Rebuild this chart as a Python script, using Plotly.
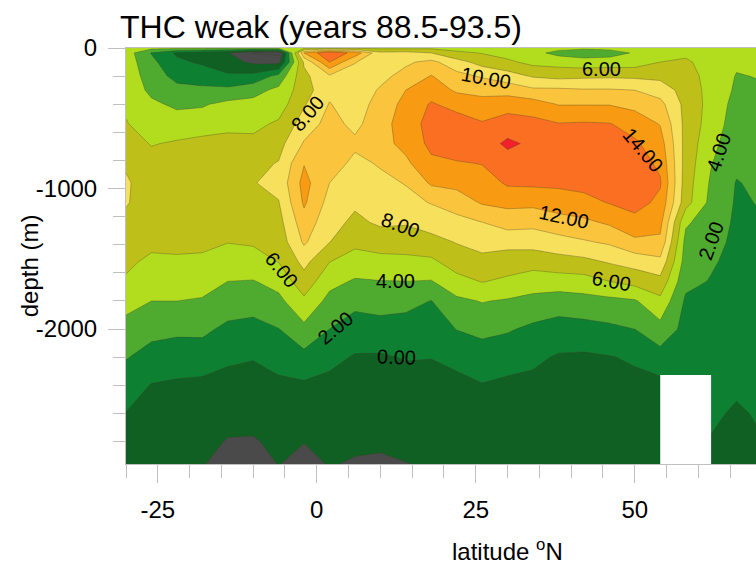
import plotly.graph_objects as go

title_text = "THC weak (years 88.5-93.5)"
lats = [-30, -26, -22, -18, -14, -10, -6, -2, 2, 6, 10, 14, 18, 22, 26, 30, 34, 38, 42, 46, 50, 54, 58, 62, 66, 70]
depths = [0, -35, -100, -200, -300, -400, -540, -680, -820, -960, -1100, -1240, -1380, -1520, -1660, -1800, -2000, -2200, -2400, -2600, -2800, -2960]

d0000 = [5, 4.6, 4.6, 4.5, 4.4, 4.3, 4.3, 5.5, 5.7, 5.6, 5.5, 5.4, 5.6, 5.3, 5, 5, 5, 4.6, 4.3, 4.5, 4.6, 4.8, 4.9, 4.9, 4.7, 4.8]
d0035 = [5, 1.9, -0.3, -1.0, -1.9, -4.1, -4.6, 12, 15.8, 13.2, 8.5, 8.8, 8.0, 6.4, 5.9, 5.2, 4.6, 3.4, 3.0, 3.2, 4.2, 5.2, 5.6, 5.1, 4.6, 4.7]
d0100 = [5.1, 2.5, 0.4, -0.3, -1.2, -2.4, -2.6, 8.3, 14.0, 10.1, 8.8, 9.7, 10.5, 8.8, 7.2, 6.4, 5.4, 5.2, 4.8, 4.9, 5.0, 6.0, 6.3, 5.2, 4.3, 4.5]
d0200 = [5.3, 3.0, 1.4, 1.1, 0.3, 0.6, 2.6, 7.5, 9.7, 9.2, 9.5, 10.6, 12.1, 10.6, 9.8, 8.9, 7.8, 7.4, 7.6, 7.7, 7.6, 7.5, 6.8, 5.3, 3.9, 4.1]
d0300 = [5.5, 3.5, 2.6, 2.4, 2.5, 3.3, 4.5, 7.1, 9.5, 8.9, 10.2, 12.0, 13.1, 11.7, 11.5, 11.2, 10.4, 10.4, 10.2, 10.2, 10.0, 9.1, 7.2, 5.3, 3.7, 3.8]
d0400 = [5.7, 4.4, 3.6, 3.8, 4.5, 4.6, 5.0, 7.8, 10.1, 9.0, 10.8, 12.6, 14.2, 13.3, 12.6, 13.2, 12.9, 11.9, 11.9, 11.9, 11.4, 10.6, 7.4, 5.3, 3.3, 3.4]
d0540 = [6.1, 5.2, 5.0, 5.0, 5.5, 5.5, 6.3, 8.9, 10.7, 9.5, 11.2, 13.0, 14.7, 15.0, 14.2, 14.9, 14.6, 14.1, 14.2, 14.1, 13.2, 11.9, 7.4, 5.1, 3.0, 3.2]
d0680 = [6.8, 5.9, 6.2, 6.6, 6.6, 6.5, 7.3, 10.2, 11.2, 10.4, 11.3, 12.6, 14.5, 15.4, 15.0, 16.4, 15.6, 15.2, 15.2, 15.0, 14.3, 12.9, 7.3, 4.6, 2.7, 2.9]
d0820 = [7.8, 6.6, 7.0, 7.1, 7.0, 7.5, 8.1, 11.9, 11.0, 9.5, 10.2, 11.6, 13.6, 13.8, 14.1, 15.1, 15.3, 15.0, 15.1, 15.2, 15.0, 13.6, 7.2, 4.1, 2.4, 2.6]
d0960 = [8.2, 7.2, 7.3, 7.4, 7.4, 7.9, 8.6, 12.7, 10.0, 9.0, 9.5, 10.1, 12.3, 12.6, 12.9, 14.3, 14.4, 14.4, 14.6, 15.0, 15.2, 14.2, 7.0, 3.7, 1.9, 2.4]
d1100 = [8.1, 7.4, 7.4, 7.4, 7.1, 7.5, 7.9, 12.3, 9.3, 8.3, 8.9, 9.4, 10.1, 10.9, 12.2, 12.5, 12.5, 13.0, 13.4, 14.1, 14.8, 13.5, 6.8, 3.4, 1.8, 2.1]
d1240 = [7.7, 7.3, 7.2, 7.2, 6.6, 7.0, 7.3, 11.2, 8.7, 7.6, 8.3, 8.2, 8.8, 9.4, 10.0, 10.9, 10.6, 11.2, 11.6, 12.3, 13.3, 12.6, 4.3, 3.0, 1.7, 1.9]
d1380 = [7.0, 6.6, 6.7, 6.6, 6.05, 6.2, 6.8, 10.3, 8.05, 6.5, 7.0, 6.9, 7.4, 8.1, 8.9, 8.6, 8.8, 9.3, 9.8, 10.3, 11.6, 11.6, 3.4, 2.6, 1.6, 1.8]
d1520 = [6.5, 5.5, 5.6, 5.5, 5.2, 5.3, 6.05, 8.6, 6.05, 5.1, 5.3, 5.5, 5.6, 7.0, 7.3, 7.1, 6.8, 7.2, 7.5, 8.2, 8.8, 9.5, 3.1, 2.2, 1.5, 1.7]
d1660 = [5.7, 4.7, 4.9, 4.9, 4.0, 3.9, 4.7, 7.2, 4.6, 3.8, 3.95, 4.0, 3.9, 5.3, 6.1, 5.6, 5.0, 5.1, 5.2, 6.0, 6.7, 7.4, 2.5, 1.9, 1.5, 1.6]
d1800 = [4.7, 4.0, 4.0, 3.8, 3.0, 2.8, 3.5, 5.6, 3.4, 2.6, 2.8, 2.6, 1.95, 3.6, 4.1, 3.8, 3.4, 3.0, 3.3, 3.5, 3.8, 5.5, 1.7, 1.8, 1.4, 1.5]
d2000 = [3.3, 2.5, 2.4, 2.4, 1.6, 1.4, 1.95, 3.5, 2.0, 1.0, 1.26, 1.15, 1.0, 2.05, 2.5, 2.2, 1.6, 1.2, 1.3, 1.6, 2.0, 3.3, 1.4, 1.6, 1.3, 1.4]
d2200 = [2.1, 1.4, 1.0, 1.1, 0.3, 0.1, 0.7, 1.4, 0.5, -0.15, -0.2, 0.1, 0.05, 0.7, 1.1, 0.8, 0.4, -0.2, -0.3, -0.1, 0.25, 1.2, 0.7, 1.3, 1.1, 1.2]
d2400 = [1.05, -0.1, -0.3, -0.5, -0.6, -0.7, -0.4, -0.3, -0.5, -0.65, -0.7, -0.6, -0.7, -0.7, -0.1, -0.4, -0.5, -0.6, -0.7, -0.7, -0.5, -0.6, -0.3, 1.0, 0.4, 0.9]
d2600 = [-0.05, -0.7, -0.8, -1.0, -1.4, -1.4, -1.0, -1.0, -1.1, -1.2, -1.3, -1.2, -1.2, -1.2, -0.7, -1.0, -0.9, -1.1, -1.2, -1.2, -1.0, -1.0, -0.6, 0.4, -0.3, 0.3]
d2800 = [-0.8, -1.3, -1.3, -1.5, -2.1, -2.15, -1.6, -1.95, -1.6, -1.7, -1.8, -1.7, -1.6, -1.6, -1.3, -1.5, -1.4, -1.5, -1.6, -1.6, -1.5, -1.5, -0.8, -0.15, -0.9, -0.1]
d2960 = [-1.4, -1.7, -1.75, -1.9, -2.6, -2.7, -1.95, -2.5, -1.9, -2.15, -2.2, -2.03, -1.9, -1.85, -1.7, -1.8, -1.75, -1.8, -1.9, -1.9, -1.8, -1.8, -1.0, -0.7, -1.3, -0.5]

band_colors = ["#4a4a4a", "#4a4a4a", "#106023", "#0e8032", "#4fab30", "#b2dd1e", "#bfbf1a",
               "#f6e05c", "#fac43c", "#f89a12", "#fb6f22", "#f2202a"]

gap_lats = [54, 54, 62, 62]
gap_depths = [-2960, -2327, -2327, -2960]

label_text = ["8.00", "10.00", "6.00", "14.00", "4.00", "2.00", "12.00", "8.00", "6.00", "4.00", "6.00", "2.00", "0.00"]
label_lats = [-1.4, 26.6, 44.8, 51.3, 63.2, 62.0, 38.9, 13.1, -5.5, 12.3, 46.3, 2.9, 12.5]
label_depths = [-463, -214, -149, -726, -740, -1374, -1203, -1260, -1580, -1658, -1658, -1993, -2199]
label_angles = [-50, 10, 0, 50, -72, -70, 12, 20, 50, 0, 10, -40, 2]

x_ticks = [-25, 0, 25, 50]
x_tick_text = ["-25", "0", "25", "50"]
x_minor = [-30, -20, -15, -10, -5, 5, 10, 15, 20, 30, 35, 40, 45, 55, 60, 65]
y_ticks = [0, -1000, -2000]
y_tick_text = ["0", "-1000", "-2000"]
y_minor = [-200, -400, -600, -800, -1200, -1400, -1600, -1800, -2200, -2400, -2600, -2800]

z = [d0000, d0035, d0100, d0200, d0300, d0400, d0540, d0680, d0820, d0960, d1100, d1240, d1380,
     d1520, d1660, d1800, d2000, d2200, d2400, d2600, d2800, d2960]

FONT = "Liberation Sans, Arial, sans-serif"
n = len(band_colors) - 1
colorscale = [[i / n, c] for i, c in enumerate(band_colors)]

fig = go.Figure()
fig.add_trace(go.Contour(
    x=lats, y=depths, z=z,
    autocontour=False,
    contours=dict(start=-4, end=16, size=2, coloring="fill", showlines=True),
    colorscale=colorscale, showscale=False,
    line=dict(color="rgba(60,60,40,0.55)", width=0.6, smoothing=0),
    hoverinfo="skip",
))
fig.add_trace(go.Scatter(
    x=gap_lats, y=gap_depths, mode="lines", fill="toself", fillcolor="white",
    line=dict(color="white", width=0), hoverinfo="skip", showlegend=False,
))

annotations = [
    dict(x=a, y=b, xref="x", yref="y", text=t, textangle=ang, showarrow=False,
         font=dict(family=FONT, size=20, color="black"), xanchor="center", yanchor="middle")
    for a, b, t, ang in zip(label_lats, label_depths, label_text, label_angles)
]
annotations.append(dict(x=0.605, y=-0.207, xref="paper", yref="paper", text="latitude <sup>o</sup>N",
                        showarrow=False, font=dict(family=FONT, size=24, color="black"),
                        xanchor="center", yanchor="middle"))
annotations.append(dict(x=-0.152, y=0.476, xref="paper", yref="paper", text="depth (m)", textangle=-90,
                        showarrow=False, font=dict(family=FONT, size=24, color="black"),
                        xanchor="center", yanchor="middle"))

tick_color = "#c0c0c0"
fig.update_layout(
    width=756, height=564,
    margin=dict(l=126, r=0, t=48, b=100, pad=0),
    paper_bgcolor="white", plot_bgcolor="white",
    showlegend=False,
    title=dict(text=title_text, x=120 / 756, xanchor="left", xref="container", y=0.952, yanchor="middle",
               font=dict(family=FONT, size=32, color="black")),
    annotations=annotations,
    xaxis=dict(range=[-30, 69.06], showgrid=False, zeroline=False, showline=True, mirror=True,
               linecolor=tick_color, linewidth=1, ticks="outside", ticklen=18, tickwidth=1, tickcolor=tick_color,
               tickmode="array", tickvals=x_ticks, ticktext=x_tick_text, ticklabelstandoff=6,
               tickfont=dict(family=FONT, size=24, color="black"),
               minor=dict(tickmode="array", tickvals=x_minor, ticks="outside", ticklen=13, tickwidth=1,
                          tickcolor=tick_color, showgrid=False)),
    yaxis=dict(range=[-2960, 0], showgrid=False, zeroline=False, showline=True, mirror=True,
               linecolor=tick_color, linewidth=1, ticks="outside", ticklen=17, tickwidth=1, tickcolor=tick_color,
               tickmode="array", tickvals=y_ticks, ticktext=y_tick_text, ticklabelstandoff=6,
               tickfont=dict(family=FONT, size=24, color="black"),
               minor=dict(tickmode="array", tickvals=y_minor, ticks="outside", ticklen=12, tickwidth=1,
                          tickcolor=tick_color, showgrid=False)),
)

fig.write_html("out.html", config={"displayModeBar": False}, post_script="document.body.style.margin='0';")
